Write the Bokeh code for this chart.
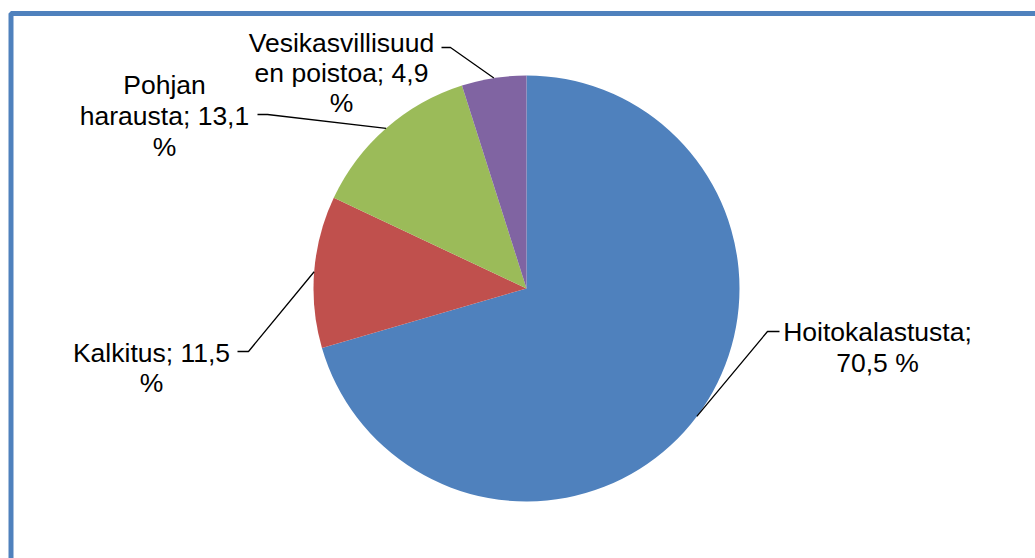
import math
from bokeh.plotting import figure
from bokeh.models import Range1d
from bokeh.core.properties import value
from bokeh.embed import file_html
from bokeh.resources import INLINE

# ---- data ----
categories = ["Hoitokalastusta", "Kalkitus", "Pohjan harausta", "Vesikasvillisuuden poistoa"]
values = [70.5, 11.5, 13.1, 4.9]
colors = ["#4F81BD", "#C0504D", "#9BBB59", "#8064A2"]
label_lines = [
    ["Hoitokalastusta;", "70,5 %"],
    ["Kalkitus; 11,5", "%"],
    ["Pohjan", "harausta; 13,1", "%"],
    ["Vesikasvillisuud", "en poistoa; 4,9", "%"],
]

# ---- layout (page pixel coordinates; y measured from top of window) ----
W, H = 1035, 558
OX, OY = 0, 0  # observed origin of the figure on the page
CX, CY, R = 526, 288, 213
label_pos = [(877, 331, 31), (151, 352, 30), (164, 84, 31), (341, 42, 30)]
leaders = [((767, 331), (779, 331)), ((248, 351), (237, 351)),
           ((267, 114), (257, 114)), ((450, 47), (441, 47))]

def Y(py):
    return 558 - py

p = figure(width=W, height=H, output_backend="svg", toolbar_location=None,
           x_range=Range1d(OX, OX + W), y_range=Range1d(Y(OY + H), Y(OY)),
           min_border=0, background_fill_color="white", border_fill_color="white")
p.axis.visible = False
p.grid.visible = False
p.outline_line_color = None

# frame
p.quad(left=[10.5], right=[1300], top=[Y(13)], bottom=[-300],
       fill_color=None, line_color="#4F81BD", line_width=5)

total = sum(values)
cum = 0.0
for i, v in enumerate(values):
    a0 = math.pi / 2 - 2 * math.pi * cum / total
    a1 = math.pi / 2 - 2 * math.pi * (cum + v) / total
    p.wedge(x=[CX], y=[Y(CY)], radius=R, start_angle=[a0], end_angle=[a1],
            direction="clock", fill_color=colors[i], line_color=None)
    mid = 2 * math.pi * (cum + v / 2) / total
    ex = CX + R * math.sin(mid)
    ey = CY - R * math.cos(mid)
    (bx, by), (tx, ty) = leaders[i]
    p.line([ex, bx, tx], [Y(ey), Y(by), Y(ty)], line_color="black", line_width=1.3)
    lx, ly, dy = label_pos[i]
    for j, t in enumerate(label_lines[i]):
        p.text(x=[lx], y=[Y(ly + j * dy)], text=[t], text_align="center",
               text_baseline="alphabetic", text_font=value("Liberation Sans"),
               text_font_size="26.5px", text_color="black")
    cum += v

open("out.html", "w").write(file_html(p, INLINE))
